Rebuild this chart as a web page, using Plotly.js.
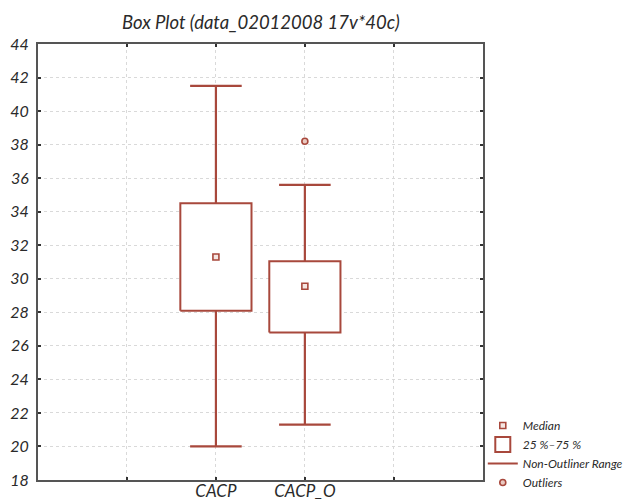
<!DOCTYPE html>
<html>
<head>
<meta charset="utf-8">
<script src="https://cdn.plot.ly/plotly-3.0.1.min.js"></script>
<style>html,body{margin:0;padding:0;background:#fff;}#chart{width:627px;height:501px;}</style>
</head>
<body>
<div id="chart"></div>
<script>
// ---- data ----
const categories = ['CACP', 'CACP_O'];
const q1Values = [28.1, 26.8];
const q3Values = [34.5, 31.05];
const medianValues = [31.3, 29.55];
const lowerWhiskers = [20.0, 21.3];
const upperWhiskers = [41.5, 35.6];
const outlierValues = [[], [38.2]];
const yTickValues = [18, 20, 22, 24, 26, 28, 30, 32, 34, 36, 38, 40, 42, 44];

// ---- styling ----
const C = '#a8483c';
const FONT = 'Lato, "Open Sans", sans-serif';
const TXT = '#2a2a2a';
const boxHalf = 0.4;
const capHalf = 0.29;
const firstPos = 2;

const pos = categories.map((c, i) => i + firstPos);

const traces = [];

// boxes
categories.forEach((c, i) => {
  const p = pos[i];
  traces.push({
    type: 'scatter', mode: 'lines',
    x: [p - boxHalf, p + boxHalf, p + boxHalf, p - boxHalf, p - boxHalf],
    y: [q1Values[i], q1Values[i], q3Values[i], q3Values[i], q1Values[i]],
    fill: 'toself', fillcolor: '#ffffff',
    line: {color: C, width: 2},
    name: '25 %–75 %', legendgroup: 'box', showlegend: false,
    hoverinfo: 'skip'
  });
});
// legend entry for the boxes (box-shaped icon)
traces.push({
  type: 'scatter', mode: 'markers', x: [null], y: [null],
  marker: {symbol: 'square-open', size: 15, color: C, line: {color: C, width: 2}},
  name: '25 %–75 %', legendgroup: 'box', legendrank: 2, hoverinfo: 'skip'
});

// whiskers
const wx = [], wy = [];
categories.forEach((c, i) => {
  const p = pos[i];
  wx.push(p, p, null, p, p, null, p - capHalf, p + capHalf, null, p - capHalf, p + capHalf, null);
  wy.push(q3Values[i], upperWhiskers[i], null, q1Values[i], lowerWhiskers[i], null,
          upperWhiskers[i], upperWhiskers[i], null, lowerWhiskers[i], lowerWhiskers[i], null);
});
traces.push({
  type: 'scatter', mode: 'lines', x: wx, y: wy,
  line: {color: C, width: 2.2},
  name: 'Non-Outliner Range', legendrank: 3, hoverinfo: 'skip'
});

// medians
traces.push({
  type: 'scatter', mode: 'markers', x: pos, y: medianValues,
  marker: {symbol: 'square', size: 6, color: '#f4e6e2', line: {color: C, width: 1.6}},
  name: 'Median', legendrank: 1
});

// outliers
const ox = [], oy = [];
categories.forEach((c, i) => {
  outlierValues[i].forEach(v => { ox.push(pos[i]); oy.push(v); });
});
traces.push({
  type: 'scatter', mode: 'markers', x: ox, y: oy,
  marker: {symbol: 'circle', size: 6, color: '#e9c9c1', line: {color: C, width: 1.6}},
  name: 'Outliers', legendrank: 4
});

const layout = {
  width: 627, height: 501,
  margin: {l: 38, r: 143, t: 44, b: 21},
  paper_bgcolor: '#ffffff', plot_bgcolor: '#ffffff',
  showlegend: true,
  font: {family: FONT, color: TXT},
  title: {
    text: 'Box Plot (data_02012008 17v*40c)',
    font: {family: FONT, size: 18.5, style: 'italic', color: TXT},
    x: 0.416, xanchor: 'center',
    y: 0.955, yanchor: 'middle'
  },
  xaxis: {
    range: [0, 5], tickmode: 'array',
    tickvals: [1, 2, 3, 4],
    ticktext: ['', categories[0], categories[1], ''],
    showgrid: true, gridcolor: '#d9d9d9', griddash: 'dot', gridwidth: 1,
    zeroline: false,
    showline: true, linecolor: '#555', linewidth: 2, mirror: 'ticks',
    ticks: 'inside', ticklen: 3, tickwidth: 2, tickcolor: '#333',
    tickfont: {family: FONT, size: 17, style: 'italic', color: TXT},
    ticklabelstandoff: -5,
    fixedrange: true
  },
  yaxis: {
    range: [18, 44], tickmode: 'array', tickvals: yTickValues,
    showgrid: true, gridcolor: '#d9d9d9', griddash: 'dot', gridwidth: 1,
    zeroline: false,
    showline: true, linecolor: '#555', linewidth: 2, mirror: 'ticks',
    ticks: 'inside', ticklen: 3, tickwidth: 2, tickcolor: '#333',
    tickfont: {family: FONT, size: 16, style: 'italic', color: TXT},
    ticklabelstandoff: 4,
    fixedrange: true
  },
  legend: {
    xref: 'container', yref: 'container',
    x: 0.770, xanchor: 'left', y: 0.008, yanchor: 'bottom',
    bgcolor: 'rgba(0,0,0,0)', borderwidth: 0,
    font: {family: FONT, size: 12, style: 'italic', color: TXT},
    itemwidth: 30, itemsizing: 'trace', tracegroupgap: 0
  }
};

Plotly.newPlot('chart', traces, layout, {displayModeBar: false, staticPlot: true});
</script>
</body>
</html>
